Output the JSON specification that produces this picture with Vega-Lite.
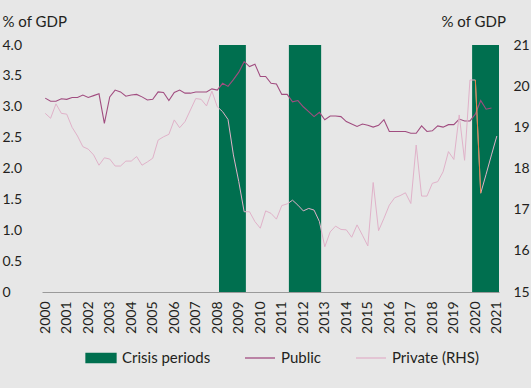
{
  "$schema": "https://vega.github.io/schema/vega-lite/v6.json",
  "width": 457,
  "height": 247,
  "autosize": {"type": "none"},
  "padding": {"left": 42, "top": 45, "right": 32, "bottom": 96},
  "background": "#e7e7e7",
  "config": {
    "view": {"stroke": null},
    "font": "Lato",
    "axis": {"labelFont": "Lato", "titleFont": "Lato", "labelColor": "#231f20", "titleColor": "#231f20", "grid": false, "ticks": false, "tickSize": 0, "domain": false, "labelFontSize": 14, "titleFontSize": 15, "titleFontWeight": "normal"},
    "axisX": {"labelAngle": 270, "labelPadding": 9, "labelOverlap": false, "labelBound": false, "labelFlush": false, "domain": true, "domainColor": "#9a9a9a", "domainWidth": 1, "tickCount": 22},
    "legend": {"labelFont": "Lato", "labelFontSize": 15, "labelColor": "#231f20"}
  },
  "datasets": {
    "crisis": [
      {"series": "Crisis periods", "start": 2008.08, "end": 2009.33},
      {"series": "Crisis periods", "start": 2011.33, "end": 2012.83},
      {"series": "Crisis periods", "start": 2019.85, "end": 2021.1}
    ],
    "public": [
      {"series": "Public", "t": 2000.00, "v": 3.14}, {"series": "Public", "t": 2000.25, "v": 3.09}, {"series": "Public", "t": 2000.50, "v": 3.09}, {"series": "Public", "t": 2000.75, "v": 3.13},
      {"series": "Public", "t": 2001.00, "v": 3.12}, {"series": "Public", "t": 2001.25, "v": 3.15}, {"series": "Public", "t": 2001.50, "v": 3.15}, {"series": "Public", "t": 2001.75, "v": 3.19},
      {"series": "Public", "t": 2002.00, "v": 3.15}, {"series": "Public", "t": 2002.25, "v": 3.18}, {"series": "Public", "t": 2002.50, "v": 3.21}, {"series": "Public", "t": 2002.75, "v": 2.73},
      {"series": "Public", "t": 2003.00, "v": 3.16}, {"series": "Public", "t": 2003.25, "v": 3.27}, {"series": "Public", "t": 2003.50, "v": 3.24}, {"series": "Public", "t": 2003.75, "v": 3.17},
      {"series": "Public", "t": 2004.00, "v": 3.19}, {"series": "Public", "t": 2004.25, "v": 3.20}, {"series": "Public", "t": 2004.50, "v": 3.16}, {"series": "Public", "t": 2004.75, "v": 3.11},
      {"series": "Public", "t": 2005.00, "v": 3.12}, {"series": "Public", "t": 2005.25, "v": 3.24}, {"series": "Public", "t": 2005.50, "v": 3.23}, {"series": "Public", "t": 2005.75, "v": 3.10},
      {"series": "Public", "t": 2006.00, "v": 3.23}, {"series": "Public", "t": 2006.25, "v": 3.27}, {"series": "Public", "t": 2006.50, "v": 3.22}, {"series": "Public", "t": 2006.75, "v": 3.22},
      {"series": "Public", "t": 2007.00, "v": 3.24}, {"series": "Public", "t": 2007.25, "v": 3.24}, {"series": "Public", "t": 2007.50, "v": 3.24}, {"series": "Public", "t": 2007.75, "v": 3.29},
      {"series": "Public", "t": 2008.00, "v": 3.27}, {"series": "Public", "t": 2008.25, "v": 3.38}, {"series": "Public", "t": 2008.50, "v": 3.33}, {"series": "Public", "t": 2008.75, "v": 3.44},
      {"series": "Public", "t": 2009.00, "v": 3.56}, {"series": "Public", "t": 2009.25, "v": 3.73}, {"series": "Public", "t": 2009.50, "v": 3.65}, {"series": "Public", "t": 2009.75, "v": 3.69},
      {"series": "Public", "t": 2010.00, "v": 3.49}, {"series": "Public", "t": 2010.25, "v": 3.49}, {"series": "Public", "t": 2010.50, "v": 3.38}, {"series": "Public", "t": 2010.75, "v": 3.37},
      {"series": "Public", "t": 2011.00, "v": 3.20}, {"series": "Public", "t": 2011.25, "v": 3.20}, {"series": "Public", "t": 2011.50, "v": 3.08}, {"series": "Public", "t": 2011.75, "v": 3.10},
      {"series": "Public", "t": 2012.00, "v": 3.00}, {"series": "Public", "t": 2012.25, "v": 2.92}, {"series": "Public", "t": 2012.50, "v": 2.84}, {"series": "Public", "t": 2012.75, "v": 2.91},
      {"series": "Public", "t": 2013.00, "v": 2.79}, {"series": "Public", "t": 2013.25, "v": 2.85}, {"series": "Public", "t": 2013.50, "v": 2.85}, {"series": "Public", "t": 2013.75, "v": 2.84},
      {"series": "Public", "t": 2014.00, "v": 2.76}, {"series": "Public", "t": 2014.25, "v": 2.72}, {"series": "Public", "t": 2014.50, "v": 2.68}, {"series": "Public", "t": 2014.75, "v": 2.72},
      {"series": "Public", "t": 2015.00, "v": 2.70}, {"series": "Public", "t": 2015.25, "v": 2.67}, {"series": "Public", "t": 2015.50, "v": 2.70}, {"series": "Public", "t": 2015.75, "v": 2.79},
      {"series": "Public", "t": 2016.00, "v": 2.60}, {"series": "Public", "t": 2016.25, "v": 2.60}, {"series": "Public", "t": 2016.50, "v": 2.60}, {"series": "Public", "t": 2016.75, "v": 2.60},
      {"series": "Public", "t": 2017.00, "v": 2.57}, {"series": "Public", "t": 2017.25, "v": 2.57}, {"series": "Public", "t": 2017.50, "v": 2.69}, {"series": "Public", "t": 2017.75, "v": 2.60},
      {"series": "Public", "t": 2018.00, "v": 2.61}, {"series": "Public", "t": 2018.25, "v": 2.69}, {"series": "Public", "t": 2018.50, "v": 2.67}, {"series": "Public", "t": 2018.75, "v": 2.71},
      {"series": "Public", "t": 2019.00, "v": 2.71}, {"series": "Public", "t": 2019.25, "v": 2.80}, {"series": "Public", "t": 2019.50, "v": 2.77}, {"series": "Public", "t": 2019.75, "v": 2.77},
      {"series": "Public", "t": 2020.00, "v": 2.88}, {"series": "Public", "t": 2020.25, "v": 3.10}, {"series": "Public", "t": 2020.50, "v": 2.96}, {"series": "Public", "t": 2020.75, "v": 2.98}
    ],
    "private": [
      {"series": "Private (RHS)", "t": 2000.00, "v": 19.34}, {"series": "Private (RHS)", "t": 2000.25, "v": 19.22}, {"series": "Private (RHS)", "t": 2000.50, "v": 19.57}, {"series": "Private (RHS)", "t": 2000.75, "v": 19.34},
      {"series": "Private (RHS)", "t": 2001.00, "v": 19.32}, {"series": "Private (RHS)", "t": 2001.25, "v": 19.00}, {"series": "Private (RHS)", "t": 2001.50, "v": 18.79}, {"series": "Private (RHS)", "t": 2001.75, "v": 18.53},
      {"series": "Private (RHS)", "t": 2002.00, "v": 18.47}, {"series": "Private (RHS)", "t": 2002.25, "v": 18.33}, {"series": "Private (RHS)", "t": 2002.50, "v": 18.08}, {"series": "Private (RHS)", "t": 2002.75, "v": 18.26},
      {"series": "Private (RHS)", "t": 2003.00, "v": 18.23}, {"series": "Private (RHS)", "t": 2003.25, "v": 18.06}, {"series": "Private (RHS)", "t": 2003.50, "v": 18.06}, {"series": "Private (RHS)", "t": 2003.75, "v": 18.18},
      {"series": "Private (RHS)", "t": 2004.00, "v": 18.18}, {"series": "Private (RHS)", "t": 2004.25, "v": 18.29}, {"series": "Private (RHS)", "t": 2004.50, "v": 18.08}, {"series": "Private (RHS)", "t": 2004.75, "v": 18.16},
      {"series": "Private (RHS)", "t": 2005.00, "v": 18.25}, {"series": "Private (RHS)", "t": 2005.25, "v": 18.69}, {"series": "Private (RHS)", "t": 2005.50, "v": 18.77}, {"series": "Private (RHS)", "t": 2005.75, "v": 18.83},
      {"series": "Private (RHS)", "t": 2006.00, "v": 19.18}, {"series": "Private (RHS)", "t": 2006.25, "v": 18.99}, {"series": "Private (RHS)", "t": 2006.50, "v": 19.14}, {"series": "Private (RHS)", "t": 2006.75, "v": 19.42},
      {"series": "Private (RHS)", "t": 2007.00, "v": 19.70}, {"series": "Private (RHS)", "t": 2007.25, "v": 19.68}, {"series": "Private (RHS)", "t": 2007.50, "v": 19.52}, {"series": "Private (RHS)", "t": 2007.75, "v": 19.88},
      {"series": "Private (RHS)", "t": 2008.00, "v": 19.50}, {"series": "Private (RHS)", "t": 2008.25, "v": 19.38}, {"series": "Private (RHS)", "t": 2008.50, "v": 19.19}, {"series": "Private (RHS)", "t": 2008.75, "v": 18.33},
      {"series": "Private (RHS)", "t": 2009.00, "v": 17.68}, {"series": "Private (RHS)", "t": 2009.25, "v": 16.95}, {"series": "Private (RHS)", "t": 2009.50, "v": 16.95}, {"series": "Private (RHS)", "t": 2009.75, "v": 16.71},
      {"series": "Private (RHS)", "t": 2010.00, "v": 16.55}, {"series": "Private (RHS)", "t": 2010.25, "v": 16.97}, {"series": "Private (RHS)", "t": 2010.50, "v": 16.91}, {"series": "Private (RHS)", "t": 2010.75, "v": 16.77},
      {"series": "Private (RHS)", "t": 2011.00, "v": 17.10}, {"series": "Private (RHS)", "t": 2011.25, "v": 17.14}, {"series": "Private (RHS)", "t": 2011.50, "v": 17.23}, {"series": "Private (RHS)", "t": 2011.75, "v": 17.11},
      {"series": "Private (RHS)", "t": 2012.00, "v": 16.97}, {"series": "Private (RHS)", "t": 2012.25, "v": 17.03}, {"series": "Private (RHS)", "t": 2012.50, "v": 16.99}, {"series": "Private (RHS)", "t": 2012.75, "v": 16.71},
      {"series": "Private (RHS)", "t": 2013.00, "v": 16.10}, {"series": "Private (RHS)", "t": 2013.25, "v": 16.46}, {"series": "Private (RHS)", "t": 2013.50, "v": 16.60}, {"series": "Private (RHS)", "t": 2013.75, "v": 16.52},
      {"series": "Private (RHS)", "t": 2014.00, "v": 16.51}, {"series": "Private (RHS)", "t": 2014.25, "v": 16.33}, {"series": "Private (RHS)", "t": 2014.50, "v": 16.63}, {"series": "Private (RHS)", "t": 2014.75, "v": 16.38},
      {"series": "Private (RHS)", "t": 2015.00, "v": 16.12}, {"series": "Private (RHS)", "t": 2015.25, "v": 17.66}, {"series": "Private (RHS)", "t": 2015.50, "v": 16.49}, {"series": "Private (RHS)", "t": 2015.75, "v": 16.79},
      {"series": "Private (RHS)", "t": 2016.00, "v": 17.11}, {"series": "Private (RHS)", "t": 2016.25, "v": 17.29}, {"series": "Private (RHS)", "t": 2016.50, "v": 17.34}, {"series": "Private (RHS)", "t": 2016.75, "v": 17.41},
      {"series": "Private (RHS)", "t": 2017.00, "v": 17.15}, {"series": "Private (RHS)", "t": 2017.25, "v": 18.57}, {"series": "Private (RHS)", "t": 2017.50, "v": 17.33}, {"series": "Private (RHS)", "t": 2017.75, "v": 17.33},
      {"series": "Private (RHS)", "t": 2018.00, "v": 17.64}, {"series": "Private (RHS)", "t": 2018.25, "v": 17.68}, {"series": "Private (RHS)", "t": 2018.50, "v": 17.92}, {"series": "Private (RHS)", "t": 2018.75, "v": 18.41},
      {"series": "Private (RHS)", "t": 2019.00, "v": 18.22}, {"series": "Private (RHS)", "t": 2019.25, "v": 19.30}, {"series": "Private (RHS)", "t": 2019.50, "v": 18.20}, {"series": "Private (RHS)", "t": 2019.75, "v": 20.15},
      {"series": "Private (RHS)", "t": 2020.00, "v": 20.15}, {"series": "Private (RHS)", "t": 2020.25, "v": 17.40}, {"series": "Private (RHS)", "t": 2020.50, "v": 17.86}, {"series": "Private (RHS)", "t": 2020.75, "v": 18.33},
      {"series": "Private (RHS)", "t": 2021.00, "v": 18.79}
    ],
    "highlight": [
      {"t": 2020.00, "v": 20.15}, {"t": 2020.25, "v": 17.40}
    ]
  },
  "layer": [
    {
      "data": {"name": "crisis"},
      "mark": {"type": "rect"},
      "encoding": {
        "x": {"field": "start", "type": "quantitative", "scale": {"domain": [1999.85, 2021.1], "nice": false, "zero": false},
          "axis": {"values": [2000,2001,2002,2003,2004,2005,2006,2007,2008,2009,2010,2011,2012,2013,2014,2015,2016,2017,2018,2019,2020,2021], "format": "d", "labelOverlap": false, "title": null}},
        "x2": {"field": "end"},
        "color": {"field": "series", "type": "nominal",
          "scale": {"domain": ["Crisis periods", "Public", "Private (RHS)"], "range": ["#006f4f", "#a14d80", "#e0b2c9"]},
          "legend": {
            "orient": "none", "legendX": 43, "legendY": 297, "direction": "horizontal", "title": null,
            "symbolSize": 900, "labelOffset": 5, "columnPadding": 31, "padding": 0,
            "encode": {"symbols": {"update": {
              "shape": {"signal": "datum.value === 'Crisis periods' ? 'M-1,-0.3H1V0.3H-1Z' : 'M-1,0H1'"},
              "fill": {"signal": "datum.value === 'Crisis periods' ? '#006f4f' : 'transparent'"},
              "stroke": {"signal": "datum.value === 'Public' ? '#a14d80' : (datum.value === 'Private (RHS)' ? '#e0b2c9' : 'transparent')"},
              "strokeWidth": {"value": 1.3},
              "opacity": {"value": 1}
            }}}
          }
        }
      }
    },
    {
      "data": {"name": "public"},
      "mark": {"type": "line", "strokeWidth": 1.1},
      "encoding": {
        "x": {"field": "t", "type": "quantitative", "axis": {"values": [2000,2001,2002,2003,2004,2005,2006,2007,2008,2009,2010,2011,2012,2013,2014,2015,2016,2017,2018,2019,2020,2021], "format": "d", "labelOverlap": false, "title": null}},
        "y": {"field": "v", "type": "quantitative", "scale": {"domain": [0, 4], "nice": false},
          "axis": {"orient": "left", "values": [0, 0.5, 1, 1.5, 2, 2.5, 3, 3.5, 4], "labelExpr": "datum.value === 0 ? '0' : format(datum.value, '.1f')", "labelAlign": "left", "labelPadding": 40, "title": "% of GDP", "titleAngle": 0, "titleAlign": "left", "titleBaseline": "alphabetic", "titleX": -40, "titleY": -19}},
        "color": {"field": "series", "type": "nominal"}
      }
    },
    {
      "data": {"name": "private"},
      "mark": {"type": "line", "strokeWidth": 1},
      "encoding": {
        "x": {"field": "t", "type": "quantitative", "axis": {"values": [2000,2001,2002,2003,2004,2005,2006,2007,2008,2009,2010,2011,2012,2013,2014,2015,2016,2017,2018,2019,2020,2021], "format": "d", "labelOverlap": false, "title": null}},
        "y": {"field": "v", "type": "quantitative", "scale": {"domain": [15, 21], "nice": false, "zero": false},
          "axis": {"orient": "right", "values": [15, 16, 17, 18, 19, 20, 21], "labelAlign": "left", "labelPadding": 14, "title": "% of GDP", "titleAngle": 0, "titleAlign": "left", "titleBaseline": "alphabetic", "titleX": -58, "titleY": -19}},
        "color": {"field": "series", "type": "nominal"}
      }
    },
    {
      "data": {"name": "highlight"},
      "mark": {"type": "line", "strokeWidth": 0.8, "color": "#e0782a"},
      "encoding": {
        "x": {"field": "t", "type": "quantitative", "axis": {"values": [2000,2001,2002,2003,2004,2005,2006,2007,2008,2009,2010,2011,2012,2013,2014,2015,2016,2017,2018,2019,2020,2021], "format": "d", "labelOverlap": false, "title": null}},
        "y": {"field": "v", "type": "quantitative", "scale": {"domain": [15, 21], "nice": false, "zero": false}, "axis": null}
      }
    }
  ],
  "resolve": {"scale": {"y": "independent"}}
}
